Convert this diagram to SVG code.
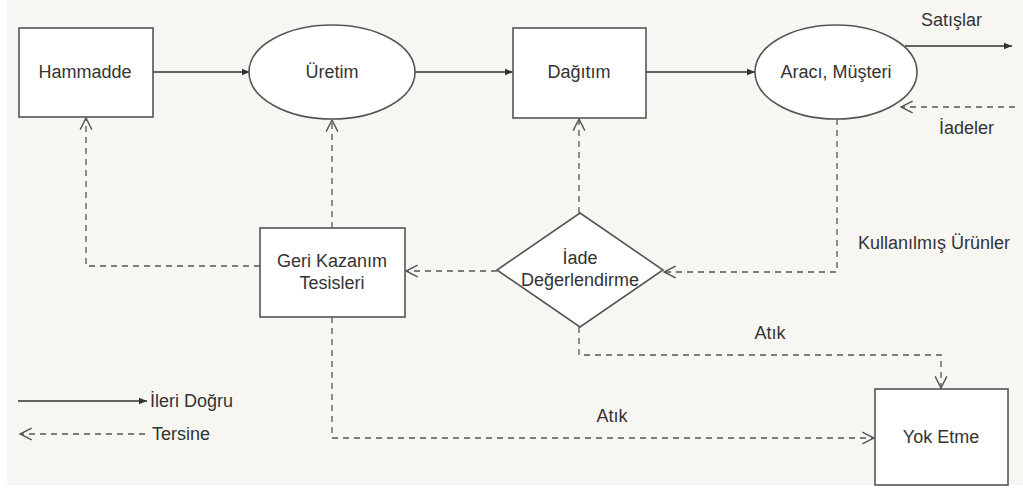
<svg xmlns="http://www.w3.org/2000/svg" width="1023" height="488" viewBox="0 0 1023 488">
<defs>
<marker id="fwd" viewBox="0 0 10 10" refX="10" refY="5" markerWidth="8" markerHeight="8" markerUnits="userSpaceOnUse" orient="auto">
<path d="M0,1 L10,5 L0,9 Z" fill="#333"/>
</marker>
<marker id="open" viewBox="0 0 12 12" refX="11" refY="6" markerWidth="14" markerHeight="14" markerUnits="userSpaceOnUse" orient="auto">
<path d="M1,1 L11,6 L1,11" fill="none" stroke="#555" stroke-width="1.2"/>
</marker>
<style>
.node{fill:#ffffff;stroke:#555;stroke-width:1.6}
.solid{fill:none;stroke:#333;stroke-width:1.3}
.dash{fill:none;stroke:#555;stroke-width:1.3;stroke-dasharray:6,5}
text{font-family:"Liberation Sans",Arial,sans-serif;font-size:18px;fill:#333}
.c{text-anchor:middle}
</style>
</defs>
<rect x="0" y="0" width="1023" height="488" fill="#ffffff"/>
<rect x="7" y="0" width="1016" height="485" fill="#f8f6f2"/>

<g id="connectors">
<line class="solid" x1="153" y1="72" x2="250" y2="72" marker-end="url(#fwd)"/>
<line class="solid" x1="415" y1="72" x2="513" y2="72" marker-end="url(#fwd)"/>
<line class="solid" x1="646" y1="72" x2="755" y2="72" marker-end="url(#fwd)"/>
<line class="solid" x1="905" y1="46" x2="1012" y2="46" marker-end="url(#fwd)"/>
<line class="dash" x1="1015" y1="107" x2="901" y2="107" marker-end="url(#open)"/>
<polyline class="dash" points="260,266 86,266 86,118" marker-end="url(#open)"/>
<line class="dash" x1="332" y1="228" x2="332" y2="120" marker-end="url(#open)"/>
<line class="dash" x1="579" y1="213" x2="579" y2="119" marker-end="url(#open)"/>
<line class="dash" x1="497" y1="271" x2="406" y2="271" marker-end="url(#open)"/>
<polyline class="dash" points="837,119 837,272 664,272" marker-end="url(#open)"/>
<polyline class="dash" points="579,327 579,355 941,355 941,388" marker-end="url(#open)"/>
<polyline class="dash" points="332,317 332,438 874,438" marker-end="url(#open)"/>
<line class="solid" x1="18" y1="401" x2="147" y2="401" marker-end="url(#fwd)"/>
<line class="dash" x1="145" y1="434" x2="20" y2="434" marker-end="url(#open)"/>
</g>

<g id="hammadde">
<rect class="node" x="19" y="28" width="134" height="89"/>
<text class="c" x="85" y="78">Hammadde</text>
</g>
<g id="uretim">
<ellipse class="node" cx="332" cy="72" rx="83" ry="47"/>
<text class="c" x="332" y="78">Üretim</text>
</g>
<g id="dagitim">
<rect class="node" x="513" y="28" width="133" height="90"/>
<text class="c" x="579" y="78">Dağıtım</text>
</g>
<g id="araci">
<ellipse class="node" cx="836" cy="72" rx="81" ry="47"/>
<text class="c" x="836" y="78">Aracı, Müşteri</text>
</g>
<g id="geri-kazanim">
<rect class="node" x="260" y="228" width="145" height="89"/>
<text class="c" x="332" y="267">Geri Kazanım</text>
<text class="c" x="332" y="289">Tesisleri</text>
</g>
<g id="iade-degerlendirme">
<polygon class="node" points="580,213 663,270 580,327 497,270"/>
<text class="c" x="580" y="264">İade</text>
<text class="c" x="580" y="286">Değerlendirme</text>
</g>
<g id="yok-etme">
<rect class="node" x="875" y="389" width="133" height="96"/>
<text class="c" x="941" y="443">Yok Etme</text>
</g>

<g id="labels">
<text x="921" y="26">Satışlar</text>
<text x="939" y="134">İadeler</text>
<text x="858" y="249">Kullanılmış Ürünler</text>
<text class="c" x="770" y="339">Atık</text>
<text class="c" x="612" y="422">Atık</text>
<text x="150" y="407">İleri Doğru</text>
<text x="152" y="440">Tersine</text>
</g>
</svg>
